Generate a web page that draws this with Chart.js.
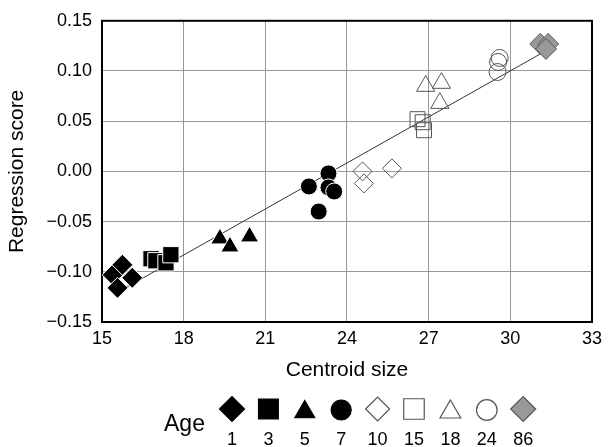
<!DOCTYPE html>
<html>
<head>
<meta charset="utf-8">
<script src="https://cdn.jsdelivr.net/npm/chart.js@4.4.0/dist/chart.umd.min.js"></script>
<style>
  html, body { margin: 0; padding: 0; background: #fff; }
</style>
</head>
<body>
<canvas id="chart" width="608" height="447"></canvas>
<script>
// Age groups (legend)
const ages = ['1', '3', '5', '7', '10', '15', '18', '24', '86'];

// Centroid size / regression score per age group
const size1 = [15.39, 15.75, 16.11, 15.57];
const score1 = [-0.103, -0.093, -0.106, -0.116];
const size3 = [16.80, 16.98, 17.35, 17.53];
const score3 = [-0.087, -0.089, -0.091, -0.083];
const size5 = [19.33, 19.70, 20.42];
const score5 = [-0.067, -0.075, -0.065];
const size7 = [23.32, 22.60, 23.32, 23.53, 22.96];
const score7 = [-0.002, -0.015, -0.016, -0.020, -0.040];
const size10 = [24.57, 24.62, 25.65];
const score10 = [0.000, -0.012, 0.003];
const size15 = [26.59, 26.78, 26.83];
const score15 = [0.052, 0.049, 0.041];
const size18 = [26.89, 27.47, 27.41];
const score18 = [0.085, 0.088, 0.068];
const size24 = [29.61, 29.55, 29.53];
const score24 = [0.113, 0.109, 0.099];
const size86 = [31.10, 31.39, 31.31];
const score86 = [0.127, 0.127, 0.122];

// Regression line end points
const lineSize = [15.5, 31.3];
const lineScore = [-0.1215, 0.1200];

// Tick labels
const xTicks = [15, 18, 21, 24, 27, 30, 33];
const yTicks = [-0.15, -0.10, -0.05, 0.00, 0.05, 0.10, 0.15];

const groups = [
    [size1, score1], [size3, score3], [size5, score5], [size7, score7], [size10, score10],
    [size15, score15], [size18, score18], [size24, score24], [size86, score86]
];

// marker look for each age group
const styles = [
    { shape: 'rectRot', fill: '#000', edge: '#fff', r: 10.5, lr: 12.5, ly: 409 },
    { shape: 'rect', fill: '#000', edge: '#fff', r: 11.5, lr: 14, ly: 409 },
    { shape: 'triangle', fill: '#000', edge: '#fff', r: 10.5, lr: 11.5, ly: 412 },
    { shape: 'circle', fill: '#000', edge: '#fff', r: 8.5, lr: 10, ly: 410 },
    { shape: 'rectRot', fill: 'rgba(255,255,255,0)', edge: '#555', r: 9.5, lr: 12, ly: 409 },
    { shape: 'rect', fill: 'rgba(255,255,255,0)', edge: '#555', r: 10.6, lr: 14.5, ly: 409 },
    { shape: 'triangle', fill: 'rgba(255,255,255,0)', edge: '#555', r: 10.5, lr: 12, ly: 412 },
    { shape: 'circle', fill: 'rgba(255,255,255,0)', edge: '#555', r: 8.5, lr: 10.3, ly: 410 },
    { shape: 'rectRot', fill: '#999', edge: '#555', r: 10.5, lr: 12.5, ly: 409 }
];

const FONT = "'Liberation Sans', Arial, Helvetica, sans-serif";

const datasets = groups.map((g, i) => ({
    label: 'Age ' + ages[i],
    data: g[0].map((x, j) => ({ x: x, y: g[1][j] })),
    pointStyle: styles[i].shape,
    pointRadius: styles[i].r,
    pointBackgroundColor: styles[i].fill,
    pointBorderColor: styles[i].edge,
    pointBorderWidth: 1,
    showLine: false,
    order: 0
}));

datasets.unshift({
    type: 'line',
    label: 'Regression',
    data: lineSize.map((x, j) => ({ x: x, y: lineScore[j] })),
    borderColor: '#333',
    borderWidth: 1,
    pointRadius: 0,
    fill: false,
    order: 1
});

// top and right frame of the plot
const framePlugin = {
    id: 'frame',
    beforeDatasetsDraw(chart) {
        const a = chart.chartArea;
        const ctx = chart.ctx;
        ctx.save();
        ctx.strokeStyle = '#000';
        ctx.lineWidth = 2;
        ctx.strokeRect(a.left, a.top, a.right - a.left, a.bottom - a.top);
        ctx.restore();
    }
};

// "Age" legend row under the axis
const ageLegend = {
    id: 'ageLegend',
    afterDraw(chart) {
        const ctx = chart.ctx;
        ctx.save();
        ctx.fillStyle = '#000';
        ctx.font = '23px ' + FONT;
        ctx.textAlign = 'left';
        ctx.textBaseline = 'alphabetic';
        ctx.fillText('Age', 164, 431);
        ctx.font = '18px ' + FONT;
        ctx.textAlign = 'center';
        ages.forEach((a, i) => {
            const x = 232 + i * 36.4;
            const s = styles[i];
            ctx.fillStyle = s.fill;
            ctx.strokeStyle = s.edge === '#fff' ? '#000' : s.edge;
            ctx.lineWidth = 1.2;
            Chart.helpers.drawPoint(ctx, { pointStyle: s.shape, radius: s.lr, rotation: 0, borderWidth: 1.2 }, x, s.ly);
            ctx.fillStyle = '#000';
            ctx.fillText(a, x, 445);
        });
        ctx.restore();
    }
};

new Chart(document.getElementById('chart'), {
    type: 'scatter',
    data: { datasets: datasets },
    options: {
        responsive: false,
        animation: false,
        layout: { padding: { left: 0, top: 20, right: 10, bottom: 0 } },
        plugins: { legend: { display: false }, tooltip: { enabled: false } },
        scales: {
            x: {
                type: 'linear',
                min: 15,
                max: 33,
                afterBuildTicks: s => { s.ticks = xTicks.map(v => ({ value: v })); },
                afterFit: s => { s.height = 125; },
                grid: { color: '#999', lineWidth: 1, drawTicks: false },
                border: { color: '#000', width: 2 },
                ticks: { color: '#000', font: { family: FONT, size: 18 }, padding: 6 },
                title: {
                    display: true,
                    text: 'Centroid size',
                    color: '#000',
                    font: { family: FONT, size: 21 },
                    padding: { top: 0, bottom: 64 }
                }
            },
            y: {
                type: 'linear',
                min: -0.15,
                max: 0.15,
                afterBuildTicks: s => { s.ticks = yTicks.map(v => ({ value: v })); },
                afterFit: s => { s.width = 102; },
                grid: { color: '#999', lineWidth: 1, drawTicks: false },
                border: { color: '#000', width: 2 },
                ticks: {
                    color: '#000',
                    font: { family: FONT, size: 18 },
                    padding: 10,
                    callback: v => (v < -1e-9 ? '\u2212' : '') + Math.abs(v).toFixed(2)
                },
                title: {
                    display: true,
                    text: 'Regression score',
                    color: '#000',
                    font: { family: FONT, size: 21 },
                    padding: { top: 5, bottom: 0 }
                }
            }
        }
    },
    plugins: [framePlugin, ageLegend]
});
</script>
</body>
</html>
